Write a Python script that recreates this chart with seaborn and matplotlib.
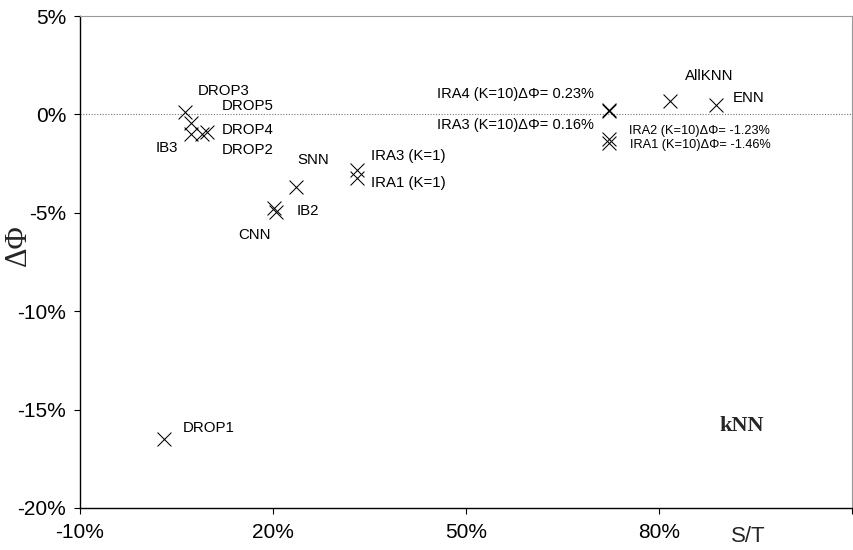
import matplotlib
matplotlib.use("Agg")
import matplotlib.pyplot as plt
import seaborn as sns
import pandas as pd
from matplotlib.ticker import FuncFormatter, FixedLocator, MultipleLocator

# Storage ratio S/T (%) and accuracy change ΔΦ (%) for each reduction method
methods = ["DROP3", "DROP5", "IB3", "DROP4", "DROP2", "SNN", "CNN", "IB2",
           "IRA3 (K=1)", "IRA1 (K=1)", "AllKNN", "ENN", "DROP1"]
storage = [6.3, 7.3, 7.3, 9.0, 9.7, 23.5, 20.1, 20.5, 33.0, 33.0, 81.7, 88.8, 3.0]
delta_phi = [0.1, -0.45, -1.0, -1.0, -0.9, -3.67, -4.75, -4.95, -2.8, -3.25, 0.68, 0.48, -16.5]

# IRA variants with K=10, labelled with their ΔΦ
ira10_names = ["IRA4", "IRA3", "IRA2", "IRA1"]
ira10_storage = [72.2, 72.2, 72.2, 72.2]
ira10_delta = [0.23, 0.16, -1.23, -1.46]

x_ticks = [-10, 20, 50, 80, 110]

# label offsets in pixels (dx, dy, horizontal alignment)
label_offsets = {
    "DROP3": (13, 21, "left"), "DROP5": (30, 17, "left"), "DROP4": (19, 4, "left"),
    "DROP2": (15, -18, "left"), "IB3": (-36, -14, "left"), "SNN": (2, 27, "left"),
    "IB2": (20, 1, "left"), "CNN": (-35, -27, "left"), "IRA3 (K=1)": (14, 14, "left"),
    "IRA1 (K=1)": (14, -5, "left"), "AllKNN": (15, 25, "left"), "ENN": (17, 7, "left"),
    "DROP1": (19, 11, "left"),
}
# (dx, dy, alignment, font size)
ira10_offsets = {
    "IRA4": (-15, 16, "right", 10.5), "IRA3": (-15, -14, "right", 10.5),
    "IRA2": (20, 8, "left", 9.2), "IRA1": (21, -2, "left", 9.2),
}

sns.set_theme(style="white")
plt.rcParams["font.family"] = ["Liberation Sans", "DejaVu Sans"]

fig = plt.figure(figsize=(8.54, 5.5), dpi=100)
ax = fig.add_axes([0.0937, 0.0764, 0.9040, 0.8945])

df = pd.DataFrame({"S/T": storage + ira10_storage, "dphi": delta_phi + ira10_delta})
sns.scatterplot(data=df, x="S/T", y="dphi", marker="x", color="black",
                s=100, linewidth=0.75, ax=ax, legend=False, zorder=3)

ax.axhline(0, color="#777777", linestyle=(0, (1, 1.5)), linewidth=0.8, zorder=1)

for name, x, y in zip(methods, storage, delta_phi):
    dx, dy, ha = label_offsets[name]
    ax.annotate(name, (x, y), xytext=(dx, dy), textcoords="offset pixels",
                ha=ha, va="center", fontsize=10.8, color="black")

for name, x, y in zip(ira10_names, ira10_storage, ira10_delta):
    dx, dy, ha, fs = ira10_offsets[name]
    ax.annotate(f"{name} (K=10)ΔΦ= {y:.2f}%", (x, y), xytext=(dx, dy),
                textcoords="offset pixels", ha=ha, va="center",
                fontsize=fs, color="black")

ax.set_xlim(-10, 110)
ax.set_ylim(-20, 5)
ax.xaxis.set_major_locator(FixedLocator(x_ticks))
ax.yaxis.set_major_locator(MultipleLocator(5))
pct = FuncFormatter(lambda v, _: "" if v > 100 else f"{v:.0f}%")
ax.xaxis.set_major_formatter(pct)
ax.yaxis.set_major_formatter(pct)
ax.tick_params(axis="both", direction="out", length=4, width=0.8,
               labelsize=15, color="black", labelcolor="black",
               bottom=True, left=True)
ax.tick_params(axis="x", pad=7)
ax.tick_params(axis="y", pad=6)

for side in ["left", "bottom"]:
    ax.spines[side].set_color("black")
    ax.spines[side].set_linewidth(1.0)
for side in ["top", "right"]:
    ax.spines[side].set_color("#999999")
    ax.spines[side].set_linewidth(0.8)

ax.set_xlabel("")
ax.set_ylabel("")
fig.text(0.876, 0.024, "S/T", fontsize=16, ha="center", va="center")
fig.text(0.021, 0.555, "ΔΦ", fontsize=22, rotation=90, ha="center", va="center",
         family=["Liberation Serif", "DejaVu Serif"])
fig.text(0.868, 0.225, "kNN", fontsize=16, fontweight="bold",
         family=["Liberation Serif", "DejaVu Serif"], ha="center", va="center")

fig.savefig("out.png", dpi=100, facecolor="white")
